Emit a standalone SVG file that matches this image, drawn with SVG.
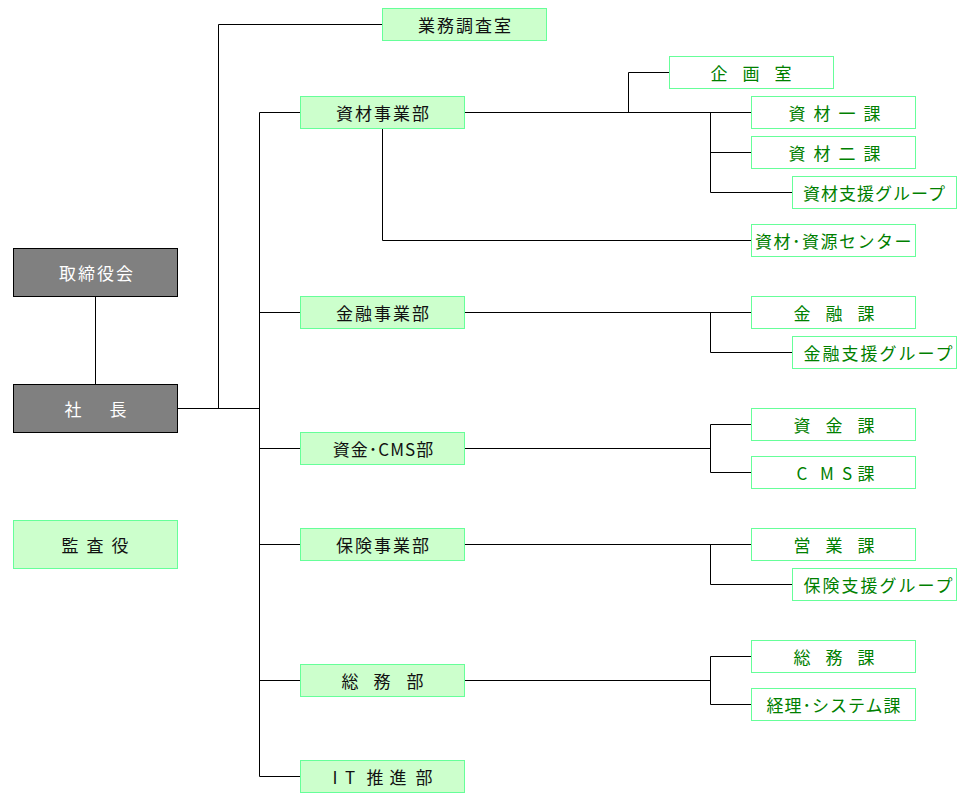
<svg xmlns="http://www.w3.org/2000/svg" width="968" height="801" viewBox="0 0 968 801">
<style>
  .bg{fill:#ffffff}
  .exec rect{fill:#808080;stroke:#000000;stroke-width:1}
  .exec text{fill:#ffffff}
  .dept rect{fill:#ccffcc;stroke:#66ff99;stroke-width:1}
  .dept text{fill:#111111}
  .sect rect{fill:#ffffff;stroke:#66ff99;stroke-width:1}
  .sect text{fill:#008000}
  text{font-family:"Noto Sans CJK JP","Liberation Sans",sans-serif;font-size:17px;text-anchor:middle;dominant-baseline:central}
  .conn path{fill:none;stroke:#000000;stroke-width:1}
</style>
<rect class="bg" x="0" y="0" width="968" height="801"/>
<g class="conn" id="connectors">
  <path d="M95.5,296 V384"/>
  <path d="M177,408.5 H259.5"/>
  <path d="M218.5,408.5 V24.5 H382"/>
  <path d="M259.5,112.5 V776.5"/>
  <path d="M259.5,112.5 H300 M259.5,312.5 H300 M259.5,448.5 H300 M259.5,544.5 H300 M259.5,680.5 H300 M259.5,776.5 H300"/>
  <path d="M464,112.5 H751"/>
  <path d="M628.5,112.5 V72.5 H669"/>
  <path d="M710.5,112.5 V192.5 H792 M710.5,152.5 H751"/>
  <path d="M382.5,128 V240.5 H751"/>
  <path d="M464,312.5 H751 M710.5,312.5 V352.5 H792"/>
  <path d="M464,448.5 H710.5 M710.5,424.5 V472.5 M710.5,424.5 H751 M710.5,472.5 H751"/>
  <path d="M464,544.5 H751 M710.5,544.5 V584.5 H792"/>
  <path d="M464,680.5 H710.5 M710.5,656.5 V704.5 M710.5,656.5 H751 M710.5,704.5 H751"/>
</g>
<g id="torishimariyakukai" class="exec"><rect x="13.5" y="248.5" width="164" height="48"/><text x="97" y="272.5" letter-spacing="2">取締役会</text></g>
<g id="shacho" class="exec"><rect x="13.5" y="384.5" width="164" height="48"/><text x="73" y="408.5">社</text><text x="118" y="408.5">長</text></g>
<g id="kansayaku" class="dept"><rect x="13.5" y="520.5" width="164" height="48"/><text x="70" y="544.5">監</text><text x="95" y="544.5">査</text><text x="120" y="544.5">役</text></g>
<g id="gyomuchosashitsu" class="dept"><rect x="382.5" y="8.5" width="164" height="32"/><text x="465.5" y="24.5" letter-spacing="2">業務調査室</text></g>
<g id="shizai-jigyobu" class="dept"><rect x="300.5" y="96.5" width="164" height="32"/><text x="383.5" y="112.5" letter-spacing="2">資材事業部</text></g>
<g id="kinyu-jigyobu" class="dept"><rect x="300.5" y="296.5" width="164" height="32"/><text x="383.5" y="312.5" letter-spacing="2">金融事業部</text></g>
<g id="shikin-cms-bu" class="dept"><rect x="300.5" y="432.5" width="164" height="32"/><text x="383.5" y="448.5" letter-spacing="1">資金･CMS部</text></g>
<g id="hoken-jigyobu" class="dept"><rect x="300.5" y="528.5" width="164" height="32"/><text x="383.5" y="544.5" letter-spacing="2">保険事業部</text></g>
<g id="somubu" class="dept"><rect x="300.5" y="664.5" width="164" height="32"/><text x="350" y="680.5">総</text><text x="382" y="680.5">務</text><text x="415" y="680.5">部</text></g>
<g id="it-suishinbu" class="dept"><rect x="300.5" y="760.5" width="164" height="32"/><text x="335" y="776.5">I</text><text x="350" y="776.5">T</text><text x="375" y="776.5">推</text><text x="398" y="776.5">進</text><text x="424" y="776.5">部</text></g>
<g id="kikakushitsu" class="sect"><rect x="669.5" y="56.5" width="164" height="32"/><text x="719" y="72.5">企</text><text x="751" y="72.5">画</text><text x="783" y="72.5">室</text></g>
<g id="shizai-ikka" class="sect"><rect x="751.5" y="96.5" width="164" height="32"/><text x="797" y="112.5">資</text><text x="822" y="112.5">材</text><text x="847" y="112.5">一</text><text x="872" y="112.5">課</text></g>
<g id="shizai-nika" class="sect"><rect x="751.5" y="136.5" width="164" height="32"/><text x="797" y="152.5">資</text><text x="822" y="152.5">材</text><text x="847" y="152.5">二</text><text x="872" y="152.5">課</text></g>
<g id="shizai-shien" class="sect"><rect x="792.5" y="176.5" width="164" height="32"/><text x="874.5" y="192.5" letter-spacing="1">資材支援グループ</text></g>
<g id="shizai-shigen-center" class="sect"><rect x="751.5" y="224.5" width="164" height="32"/><text x="834" y="240.5" letter-spacing="1.5">資材･資源センター</text></g>
<g id="kinyuka" class="sect"><rect x="751.5" y="296.5" width="164" height="32"/><text x="802" y="312.5">金</text><text x="834" y="312.5">融</text><text x="866" y="312.5">課</text></g>
<g id="kinyu-shien" class="sect"><rect x="792.5" y="336.5" width="164" height="32"/><text x="879" y="352.5" letter-spacing="2">金融支援グループ</text></g>
<g id="shikinka" class="sect"><rect x="751.5" y="408.5" width="164" height="32"/><text x="802" y="424.5">資</text><text x="834" y="424.5">金</text><text x="866" y="424.5">課</text></g>
<g id="cmska" class="sect"><rect x="751.5" y="456.5" width="164" height="32"/><text x="802" y="472.5">C</text><text x="827" y="472.5">M</text><text x="847" y="472.5">S</text><text x="866" y="472.5">課</text></g>
<g id="eigyoka" class="sect"><rect x="751.5" y="528.5" width="164" height="32"/><text x="802" y="544.5">営</text><text x="834" y="544.5">業</text><text x="866" y="544.5">課</text></g>
<g id="hoken-shien" class="sect"><rect x="792.5" y="568.5" width="164" height="32"/><text x="879" y="584.5" letter-spacing="2">保険支援グループ</text></g>
<g id="somuka" class="sect"><rect x="751.5" y="640.5" width="164" height="32"/><text x="802" y="656.5">総</text><text x="834" y="656.5">務</text><text x="866" y="656.5">課</text></g>
<g id="keiri-system-ka" class="sect"><rect x="751.5" y="688.5" width="164" height="32"/><text x="834" y="704.5" letter-spacing="1">経理･システム課</text></g>
</svg>
